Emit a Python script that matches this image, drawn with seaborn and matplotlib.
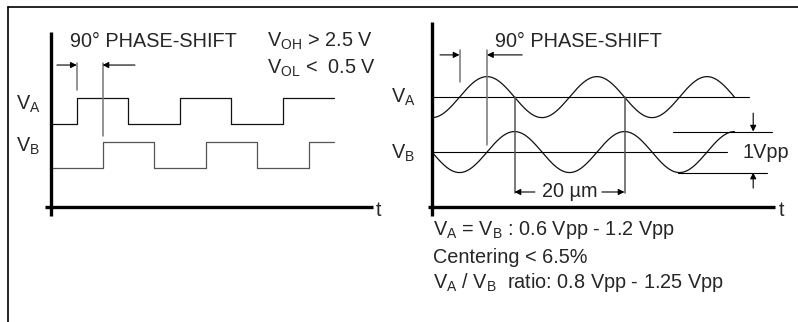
import numpy as np
import pandas as pd
import matplotlib.pyplot as plt
import seaborn as sns

# Left panel: square-wave outputs (time in quarter periods, 90° = 1)
sq_time_a = [0, 1, 3, 5, 7, 9, 11]
sq_time_b = [0, 2, 4, 6, 8, 10, 11]
sq_state = [0, 1, 0, 1, 0, 1, 1]
sq_low_a = 3.2
sq_low_b = 1.5

# Right panel: sine outputs (x in µm, y in V)
sine_period = 20
sine_vpp = 1.0
sine_length = 55
sine_shift = 5          # 90° phase shift
sine_mid_a = 2.68
sine_mid_b = 1.34

spec_lines = ["V$_\\mathregular{A}$ = V$_\\mathregular{B}$ : 0.6 Vpp - 1.2 Vpp",
              "Centering < 6.5%",
              "V$_\\mathregular{A}$ / V$_\\mathregular{B}$  ratio: 0.8 Vpp - 1.25 Vpp"]

sns.set_style('white')
plt.rcParams['font.family'] = ['Liberation Sans', 'DejaVu Sans']
plt.rcParams['mathtext.fontset'] = 'custom'
plt.rcParams['mathtext.rm'] = 'Liberation Sans'
FS = 14.3

fig = plt.figure(figsize=(7.98, 3.22), dpi=100)

# outer frame (top and left edges only)
frame = fig.add_axes([0, 0, 1, 1])
frame.set_xlim(0, 798)
frame.set_ylim(322, 0)
frame.axis('off')
frame.plot([8, 798], [7, 7], color='black', lw=1.2)
frame.plot([8, 8], [7, 322], color='black', lw=1.2)

axl = fig.add_axes([0, 0, 400 / 798, 1])
axl.set_xlim(-51 / 25.75, 349 / 25.75)
axl.set_ylim(-115 / 26, 207 / 26)
axl.axis('off')

axr = fig.add_axes([400 / 798, 0, 398 / 798, 1])
axr.set_xlim(-32 / 5.5, 366 / 5.5)
axr.set_ylim(-115 / 41, 207 / 41)
axr.axis('off')

arrow = dict(arrowstyle='-|>', color='black', lw=0.8, mutation_scale=9,
             shrinkA=0, shrinkB=0)


def arr(ax, x0, y0, x1, y1):
    ax.annotate('', xy=(x1, y1), xytext=(x0, y0), arrowprops=arrow)


# ---------- left panel ----------
df_sq = pd.concat([
    pd.DataFrame({'t': sq_time_a, 'v': np.array(sq_state) + sq_low_a, 'ch': 'A'}),
    pd.DataFrame({'t': sq_time_b, 'v': np.array(sq_state) + sq_low_b, 'ch': 'B'}),
])
sns.lineplot(data=df_sq, x='t', y='v', hue='ch', palette={'A': '#111111', 'B': '#555555'},
             drawstyle='steps-post', estimator=None, sort=False, legend=False,
             lw=0.9, ax=axl)

axl.plot([0, 0], [-0.35, 6.73], color='black', lw=2.4, solid_capstyle='butt')
axl.plot([-0.23, 12.5], [0, 0], color='black', lw=2.4, solid_capstyle='butt')
axl.text(12.6, -0.35, 't', fontsize=FS, ha='left', va='baseline')

axl.plot([sq_time_a[1]] * 2, [5.54, 4.5], color='#777777', lw=1.1)
axl.plot([sq_time_b[1]] * 2, [5.54, 2.73], color='#777777', lw=1.1)
arr(axl, 0.23, 5.46, sq_time_a[1], 5.46)
arr(axl, 3.26, 5.46, sq_time_b[1], 5.46)

axl.text(0.74, 6.17, '90° PHASE-SHIFT', fontsize=FS, va='baseline')
axl.text(8.39, 6.17, 'V$_\\mathregular{OH}$ > 2.5 V', fontsize=FS, va='baseline')
axl.text(8.39, 5.14, 'V$_\\mathregular{OL}$ <  0.5 V', fontsize=FS, va='baseline')
axl.text(-1.36, 3.73, 'V$_\\mathregular{A}$', fontsize=FS, va='baseline')
axl.text(-1.36, 2.12, 'V$_\\mathregular{B}$', fontsize=FS, va='baseline')

# ---------- right panel ----------
xs = np.linspace(0, sine_length, 600)
amp = sine_vpp / 2
df_sin = pd.concat([
    pd.DataFrame({'x': xs, 'v': sine_mid_a - amp * np.cos(2 * np.pi * xs / sine_period), 'ch': 'A'}),
    pd.DataFrame({'x': xs, 'v': sine_mid_b - amp * np.cos(2 * np.pi * (xs - sine_shift) / sine_period), 'ch': 'B'}),
])
sns.lineplot(data=df_sin, x='x', y='v', hue='ch', palette={'A': '#111111', 'B': '#111111'},
             estimator=None, sort=False, legend=False, lw=0.9, ax=axr)

axr.plot([0, 57.6], [sine_mid_a] * 2, color='black', lw=0.8)
axr.plot([0, 53.6], [sine_mid_b] * 2, color='black', lw=0.8)

axr.plot([0, 0], [-0.22, 4.51], color='black', lw=2.4, solid_capstyle='butt')
axr.plot([-0.73, 62.4], [0, 0], color='black', lw=2.4, solid_capstyle='butt')
axr.text(63.1, -0.22, 't', fontsize=FS, ha='left', va='baseline')

# 90° markers
axr.plot([sine_shift] * 2, [3.83, 3.05], color='#777777', lw=1.1)
axr.plot([sine_period / 2] * 2, [3.83, 1.51], color='#777777', lw=1.1)
arr(axr, 1.45, 3.71, sine_shift, 3.71)
arr(axr, 16.4, 3.71, sine_period / 2, 3.71)
axr.text(11.45, 3.90, '90° PHASE-SHIFT', fontsize=FS, va='baseline')

# 20 µm period
x1, x2 = 0.75 * sine_period, 1.75 * sine_period
axr.plot([x1, x1], [sine_mid_a, 0.34], color='#555555', lw=1.1)
axr.plot([x2, x2], [sine_mid_a, 0.34], color='#555555', lw=1.1)
arr(axr, 18.7, 0.366, x1, 0.366)
arr(axr, 30.9, 0.366, x2, 0.366)
axr.text((x1 + x2) / 2, 0.366, '20 µm', fontsize=FS, ha='center', va='center')

# 1 Vpp
axr.plot([43.8, 61.8], [sine_mid_b + amp] * 2, color='black', lw=0.8)
axr.plot([44.7, 60.9], [sine_mid_b - amp] * 2, color='black', lw=0.8)
arr(axr, 58.4, 2.29, 58.4, sine_mid_b + amp)
arr(axr, 58.4, 0.46, 58.4, sine_mid_b - amp)
axr.text(56.4, 1.195, '1Vpp', fontsize=FS, va='baseline')

axr.text(-7.45, 2.55, 'V$_\\mathregular{A}$', fontsize=FS, va='baseline')
axr.text(-7.45, 1.17, 'V$_\\mathregular{B}$', fontsize=FS, va='baseline')

for line, yb in zip(spec_lines, [-0.683, -1.359, -1.983]):
    axr.text(0.18, yb, line, fontsize=FS, va='baseline')

fig.savefig('out.png', dpi=100)
